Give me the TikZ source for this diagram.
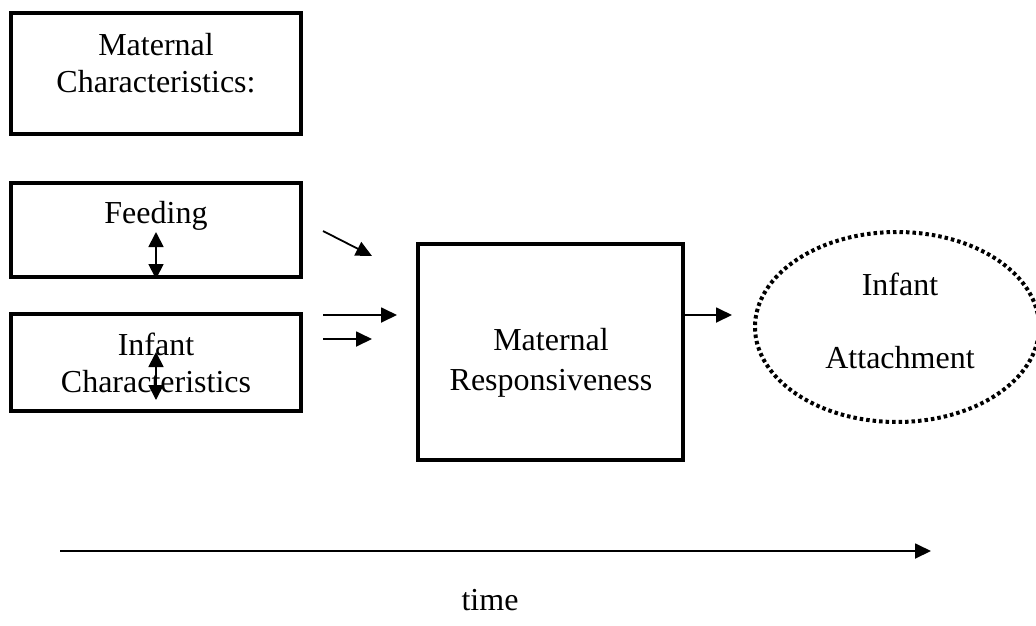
\documentclass[tikz,border=0pt]{standalone}
\usepackage{fontspec}
\setmainfont{Liberation Serif}
\usetikzlibrary{arrows.meta,shapes.geometric}
\begin{document}
\begin{tikzpicture}[x=1pt,y=-1pt,
  box/.style={draw,line width=3.5pt,inner sep=0pt},
  lbl/.style={inner sep=0pt,anchor=base,font=\fontsize{32}{37}\selectfont},
  arr/.style={line width=1.8pt,-{Triangle[length=16pt,width=15pt]}},
  darr/.style={line width=1.8pt,{Triangle[length=15pt,width=15pt]}-{Triangle[length=15pt,width=15pt]}}]
\useasboundingbox (0,0) rectangle (1036,625);
% boxes
\node[box,minimum width=290pt,minimum height=121pt] (mc) at (156,73.5) {};
\node[box,minimum width=290pt,minimum height=94pt] (fd) at (156,230) {};
\node[box,minimum width=290pt,minimum height=97pt] (ic) at (156,362.5) {};
\node[box,minimum width=265pt,minimum height=216pt] (mr) at (550.5,352) {};
\node[draw,ellipse,line width=4pt,dash pattern=on 3.5pt off 3pt,minimum width=284pt,minimum height=190pt,inner sep=0pt] (ia) at (897,327) {};
% texts
\node[lbl] (t1) at (156,55) {Maternal};
\node[lbl] (t2) at (156,92) {Characteristics:};
\node[lbl] (t3) at (156,223) {Feeding};
\node[lbl] (t4) at (156,355) {Infant};
\node[lbl] (t5) at (156,392) {Characteristics};
\node[lbl] (t6) at (551,350) {Maternal};
\node[lbl] (t7) at (551,390) {Responsiveness};
\node[lbl] (t8) at (900,295) {Infant};
\node[lbl] (t9) at (900,368) {Attachment};
\node[lbl] (t10) at (490,610) {time};
% arrow end points
\coordinate (a1s) at (323,231); \coordinate (a1e) at (372,256);
\coordinate (a2s) at (323,315); \coordinate (a2e) at (397,315);
\coordinate (a3s) at (323,339); \coordinate (a3e) at (372,339);
\coordinate (a4e) at (732,315);
\coordinate (d1s) at (156,232); \coordinate (d1e) at (156,279);
\coordinate (d2s) at (156,352); \coordinate (d2e) at (156,400);
\coordinate (ts) at (60,551); \coordinate (te) at (931,551);
\draw[arr] (a1s) -- (a1e);
\draw[arr] (a2s) -- (a2e);
\draw[arr] (a3s) -- (a3e);
\draw[arr] (mr.east |- a4e) -- (a4e);
\draw[darr] (d1s) -- (d1e);
\draw[darr] (d2s) -- (d2e);
\draw[arr] (ts) -- (te);
\end{tikzpicture}
\end{document}
